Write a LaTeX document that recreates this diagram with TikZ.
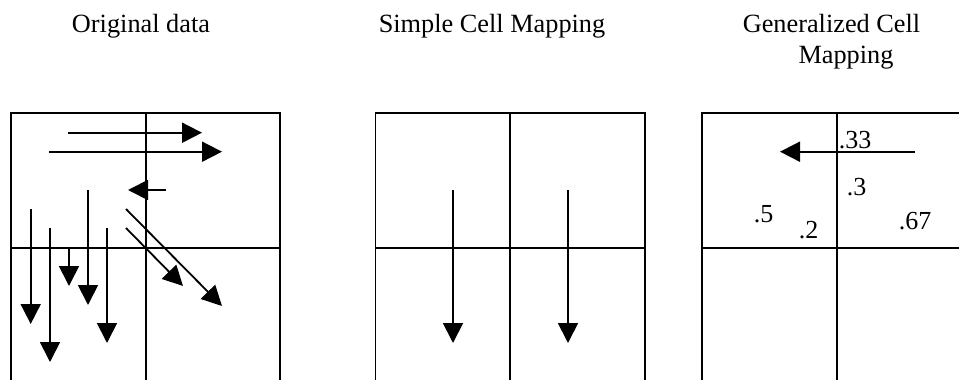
\documentclass[tikz,border=0pt]{standalone}
\usepackage{fontspec}
\setmainfont{Liberation Serif}
\usepackage{tikz}
\usetikzlibrary{arrows.meta}

\begin{document}
\begin{tikzpicture}[x=1pt,y=-1pt,line width=1.8pt,
	grid line/.style={black},
	flow/.style={-{Triangle[length=20pt,width=20pt]}},
	title node/.style={anchor=base,inner sep=0pt,font=\fontsize{26.3}{31}\selectfont},
	prob node/.style={anchor=base west,inner sep=0pt,font=\fontsize{26}{31}\selectfont}]
	\clip (0,0) rectangle (959,380);
	
	% Titles
	\node[title node] (orig) at (141,32) {Original data};
	\node[title node] (scm) at (492,32) {Simple Cell Mapping};
	\node[title node] (gcm) at (831.5,32) {Generalized Cell};
	\node[title node] (gcm2) at (846,63) {Mapping};
	
	% Grids
	\draw[grid line] (11,113) rectangle (280,383);
	\draw[grid line] (145.7,113) -- (145.7,383) (11,248) -- (280,248);
	\draw[grid line] (375.5,113) rectangle (645,383);
	\draw[grid line] (510,113) -- (510,383) (375.5,248) -- (645,248);
	\draw[grid line] (702,113) rectangle (972,383);
	\draw[grid line] (837,113) -- (837,383) (702,248) -- (972,248);
	
	% Original data
	\draw[flow] (68,132.7) -- (202,132.7);
	\draw[flow] (49,151.7) -- (222,151.7);
	\draw[flow] (166,190) -- (128,190);
	\draw[flow] (30.7,209) -- (30.7,324);
	\draw[flow] (50,228) -- (50,362);
	\draw[flow] (69,248) -- (69,286);
	\draw[flow] (88,190) -- (88,305);
	\draw[flow] (107,228) -- (107,343);
	\draw[flow] (126,228) -- (183,286);
	\draw[flow] (126,209) -- (222,306);
	
	% Simple cell mapping
	\draw[flow] (453,190) -- (453,343);
	\draw[flow] (568,190) -- (568,343);
	
	% Generalized cell mapping
	\draw[flow] (915,151.7) -- (780,151.7);
	\node[prob node] (p33) at (838,148) {.33};
	\node[prob node] (p3) at (846,195) {.3};
	\node[prob node] (p5) at (753,222.7) {.5};
	\node[prob node] (p2) at (798,238) {.2};
	\node[prob node] (p67) at (898,229) {.67};
\end{tikzpicture}
\end{document}
